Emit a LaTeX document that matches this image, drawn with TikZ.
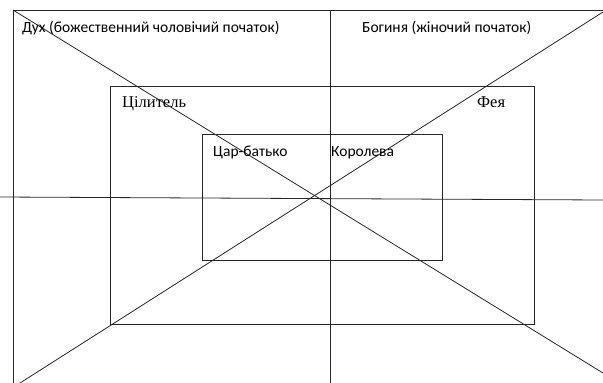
\documentclass[tikz,border=0pt]{standalone}
\usepackage{fontspec}
\setmainfont{Carlito}
\newfontfamily\serifcyr{Liberation Serif}
\tikzset{
  ln/.style={line width=0.8pt, draw=black!85},
  sanslbl/.style={anchor=base west, inner sep=0pt, font=\fontsize{15.5}{17}\selectfont},
  seriflbl/.style={anchor=base west, inner sep=0pt, font=\serifcyr\fontsize{16.5}{18}\selectfont},
}
\begin{document}
\begin{tikzpicture}[x=1pt,y=-1pt]
\useasboundingbox (0,0) rectangle (603,383);
% frame corners and ends
\coordinate (tl) at (13,10);
\coordinate (tr) at (603,10);
\coordinate (bl) at (13,383);
\coordinate (dr) at (603,373);
\coordinate (dl) at (20,383);
\coordinate (dtr) at (603,12);
\coordinate (hl) at (0,197);
\coordinate (hr) at (603,200);
\coordinate (vt) at (330,10);
\coordinate (vb) at (330,383);
% lines
\draw[ln] (bl) -- (tl) -- (tr);
\draw[ln] (hl) -- (hr);
\draw[ln] (vt) -- (vb);
\draw[ln] (tl) -- (dr);
\draw[ln] (dl) -- (dtr);
% rectangles
\coordinate (outA) at (110,86);
\coordinate (outB) at (534,324);
\coordinate (inA) at (202,134);
\coordinate (inB) at (442,260);
\draw[ln] (outA) rectangle (outB);
\draw[ln] (inA) rectangle (inB);
% texts
\node[sanslbl] (spirit) at (22,32) {Дух (божественний чоловічий початок)};
\node[sanslbl] (goddess) at (362,32) {Богиня (жіночий початок)};
\node[seriflbl] (healer) at (122,107) {Цілитель};
\node[seriflbl] (fairy) at (477,107) {Фея};
\node[sanslbl] (king) at (213,156) {Цар-батько};
\node[sanslbl] (queen) at (331,156) {Королева};
\end{tikzpicture}
\end{document}
